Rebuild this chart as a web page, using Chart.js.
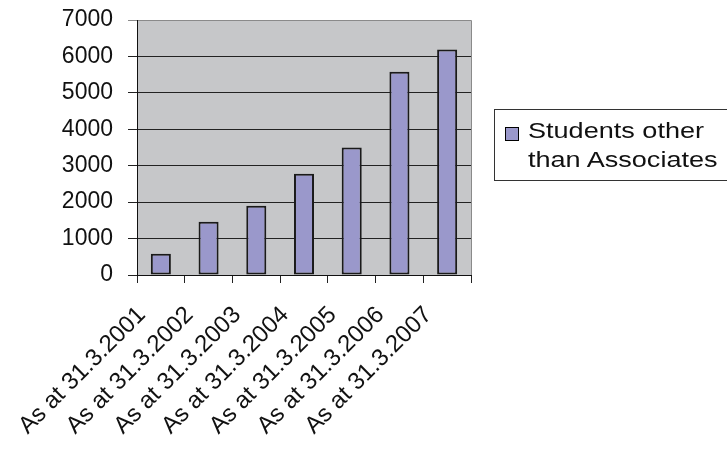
<!DOCTYPE html>
<html><head><meta charset="utf-8">
<script src="https://cdn.jsdelivr.net/npm/chart.js@4/dist/chart.umd.min.js"></script>
<style>
html,body{margin:0;padding:0;background:#fff;}
#wrap{position:relative;width:727px;height:449px;overflow:hidden;}
#c{position:absolute;left:0;top:0;}
#legend{position:absolute;left:494px;top:109px;width:240px;height:72px;border:1px solid #333;box-sizing:border-box;
 font-family:"Liberation Sans",Arial,sans-serif;font-size:22px;line-height:29px;color:#111;}
#legend .sw{position:absolute;left:10px;top:17px;width:12px;height:12px;border:1px solid #000;}
#legend .tx{position:absolute;left:33px;top:6px;white-space:nowrap;transform:scaleX(1.23);transform-origin:0 0;}
</style></head>
<body><div id="wrap"><canvas id="c" width="727" height="449"></canvas>
<div id="legend"><div class="sw"></div><div class="tx"></div></div></div>
<script>
const categories = ["As at 31.3.2001","As at 31.3.2002","As at 31.3.2003","As at 31.3.2004","As at 31.3.2005","As at 31.3.2006","As at 31.3.2007"];
const seriesName = ["Students other", "than Associates"];
const values = [580, 1460, 1900, 2780, 3500, 5580, 6190];
const yTicks = [0,1000,2000,3000,4000,5000,6000,7000];
const barColor = '#9a98cb';

document.querySelector('#legend .sw').style.background = barColor;
document.querySelector('#legend .tx').innerHTML = seriesName.join('<br>');

const bgPlugin = {
  id:'bg',
  beforeDraw(chart){
    const {ctx, chartArea:a} = chart;
    ctx.save();
    ctx.fillStyle = '#c6c7c9';
    ctx.fillRect(a.left, a.top, a.right-a.left, a.bottom-a.top);
    ctx.strokeStyle = '#8a8a8a';
    ctx.lineWidth = 1;
    ctx.beginPath();
    ctx.moveTo(a.left, a.top+0.5); ctx.lineTo(a.right+0.5, a.top+0.5); ctx.lineTo(a.right+0.5, a.bottom);
    ctx.stroke();
    ctx.restore();
  }
};

new Chart(document.getElementById('c'), {
  type:'bar',
  data:{labels:categories, datasets:[{label:seriesName.join(' '), data:values, backgroundColor:barColor,
    borderColor:'#1a1a1a', borderWidth:2, borderSkipped:false, categoryPercentage:0.42, barPercentage:1}]},
  options:{
    responsive:false, animation:false, devicePixelRatio:1,
    layout:{padding:{left:0,right:256,top:20,bottom:0}},
    plugins:{legend:{display:false}, tooltip:{enabled:false}},
    scales:{
      x:{
        grid:{offset:true, drawOnChartArea:false, color:'#222', tickLength:8, tickWidth:1},
        border:{color:'#111', width:1},
        ticks:{maxRotation:45, minRotation:45, autoSkip:false, padding:18, labelOffset:-19, color:'#111',
          font:{family:'"Liberation Sans", Arial, sans-serif', size:24}},
        afterFit(s){ s.height = 174; }
      },
      y:{
        min:0, max:7000,
        afterBuildTicks(s){ s.ticks = yTicks.map(v=>({value:v})); },
        grid:{color:(c)=> c.tick && c.tick.value===7000 ? '#8a8a8a' : '#222', tickLength:9, lineWidth:1},
        border:{color:'#111', width:1},
        ticks:{padding:15, color:'#111', callback:(v)=>String(v),
          font:{family:'"Liberation Sans", Arial, sans-serif', size:23, lineHeight:0.4}},
        afterFit(s){ s.width = 137; }
      }
    }
  },
  plugins:[bgPlugin]
});
</script></body></html>
